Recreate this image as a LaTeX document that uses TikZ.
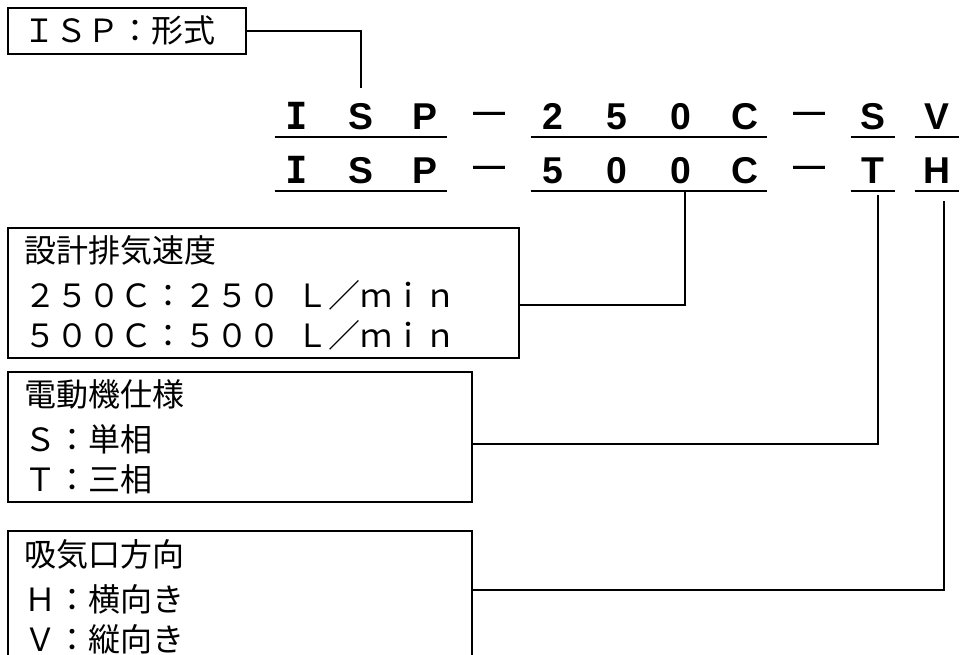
\documentclass[tikz,border=0pt]{standalone}
\usepackage{fontspec}
\newfontfamily\jp{Noto Sans CJK JP}
\newfontfamily\rowfont{Liberation Sans}
\newfontfamily\serifI{DejaVu Sans Mono}
\begin{document}
\begin{tikzpicture}[x=0.75pt,y=-0.75pt,
  box/.style={draw, line width=1.2pt, inner sep=0pt, rectangle},
  txt/.style={anchor=base west, inner sep=0pt, font=\jp\fontsize{24pt}{28pt}\selectfont},
  rc/.style={anchor=base, inner sep=0pt, minimum width=33pt, text height=31.5pt, text depth=5.25pt,
             font=\rowfont\bfseries\fontsize{28pt}{30pt}\selectfont},
  dashc/.style={anchor=base, inner sep=0pt, font=\rowfont\bfseries\fontsize{24pt}{26pt}\selectfont},
  conn/.style={line width=1.2pt},
  ul/.style={line width=1.6pt}]
\clip (0,0) rectangle (960,655);
\fill[white] (0,0) rectangle (960,655);

% boxes
\node[box, minimum width=178.5pt, minimum height=34.5pt] (b0) at (127,31) {};
\node[box, minimum width=383.25pt, minimum height=97.5pt] (b1) at (263.5,293) {};
\node[box, minimum width=348pt, minimum height=97.5pt] (b2) at (240,437) {};
\node[box, minimum width=348pt, minimum height=97.5pt] (b3) at (240,596) {};

% box texts
\node[txt] (t0) at (23,43) {ＩＳＰ：形式};
\node[txt] (t11) at (24,263) {設計排気速度};
\node[txt] (t12) at (24,308) {２５０Ｃ：２５０\hspace{0.5em}Ｌ／ｍｉｎ};
\node[txt] (t13) at (24,348) {５００Ｃ：５００\hspace{0.5em}Ｌ／ｍｉｎ};
\node[txt] (t21) at (24,407) {電動機仕様};
\node[txt] (t22) at (24,452) {Ｓ：単相};
\node[txt] (t23) at (24,492) {Ｔ：三相};
\node[txt] (t31) at (24,566) {吸気口方向};
\node[txt] (t32) at (24,611) {Ｈ：横向き};
\node[txt] (t33) at (24,651) {Ｖ：縦向き};

% row 1
\node[rc] (r1c1) at (297,130) {\serifI\bfseries I};
\node[rc] (r1c2) at (361,130) {S};
\node[rc] (r1c3) at (425,130) {P};
\node[dashc] (r1c4) at (489,123) {—};
\node[rc] (r1c5) at (553,130) {2};
\node[rc] (r1c6) at (617,130) {5};
\node[rc] (r1c7) at (681,130) {0};
\node[rc] (r1c8) at (745,130) {C};
\node[dashc] (r1c9) at (809,123) {—};
\node[rc] (r1c10) at (873,130) {S};
\node[rc] (r1c11) at (937,130) {V};

% row 2
\node[rc] (r2c1) at (297,184) {\serifI\bfseries I};
\node[rc] (r2c2) at (361,184) {S};
\node[rc] (r2c3) at (425,184) {P};
\node[dashc] (r2c4) at (489,177) {—};
\node[rc] (r2c5) at (553,184) {5};
\node[rc] (r2c6) at (617,184) {0};
\node[rc] (r2c7) at (681,184) {0};
\node[rc] (r2c8) at (745,184) {C};
\node[dashc] (r2c9) at (809,177) {—};
\node[rc] (r2c10) at (873,184) {T};
\node[rc] (r2c11) at (937,184) {H};

% underlines
\draw[ul] (r1c1.south west) -- (r1c3.south east);
\draw[ul] (r1c5.south west) -- (r1c8.south east);
\draw[ul] (r1c10.south west) -- (r1c10.south east);
\draw[ul] (r1c11.south west) -- (r1c11.south east);
\draw[ul] (r2c1.south west) -- (r2c3.south east);
\draw[ul] (r2c5.south west) -- (r2c8.south east);
\draw[ul] (r2c10.south west) -- (r2c10.south east);
\draw[ul] (r2c11.south west) -- (r2c11.south east);

% connectors
\coordinate (j1) at (0,305);
\coordinate (j2) at (0,444);
\coordinate (j3) at (0,590);
\draw[conn] (b0.east) -| (r1c2.north);
\draw[conn] ([xshift=3pt]r2c7.south) |- (b1.east |- j1);
\draw[conn] ([xshift=3.75pt,yshift=-3pt]r2c10.south) |- (b2.east |- j2);
\draw[conn] ([xshift=5.25pt,yshift=-7.5pt]r2c11.south) |- (b3.east |- j3);
\end{tikzpicture}
\end{document}
